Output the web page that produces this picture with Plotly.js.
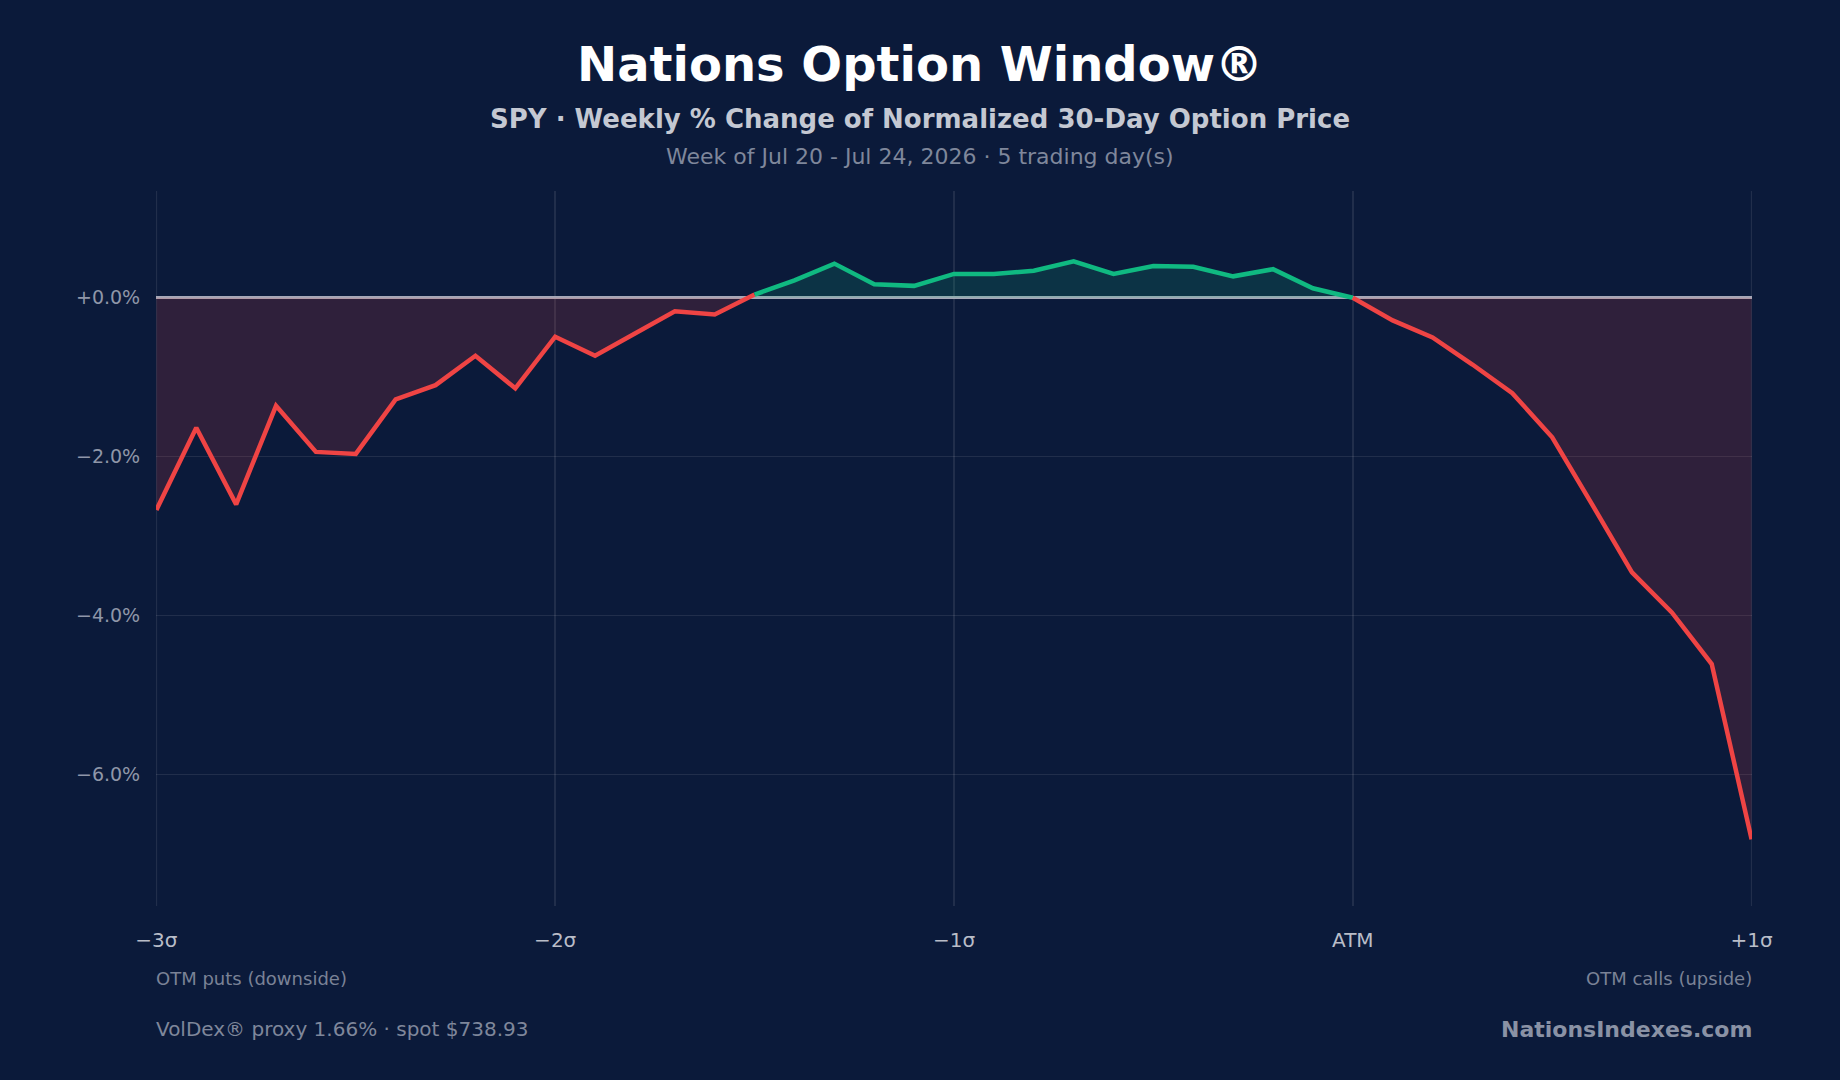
<!DOCTYPE html>
<html>
<head>
<meta charset="utf-8">
<script src="https://cdn.plot.ly/plotly-3.0.1.min.js"></script>
<style>
  html, body { margin: 0; padding: 0; background: #0b1a3a; }
  #chart { width: 1840px; height: 1080px; }
</style>
</head>
<body>
<div id="chart"></div>
<script>
"use strict"
// strike position in sigma units, one point every 0.1 sigma
const sigmas = [-3.0, -2.9, -2.8, -2.7, -2.6, -2.5, -2.4, -2.3, -2.2, -2.1,
                -2.0, -1.9, -1.8, -1.7, -1.6, -1.5, -1.4, -1.3, -1.2, -1.1,
                -1.0, -0.9, -0.8, -0.7, -0.6, -0.5, -0.4, -0.3, -0.2, -0.1,
                 0.0,  0.1,  0.2,  0.3,  0.4,  0.5,  0.6,  0.7,  0.8,  0.9, 1.0];
// weekly % change of the normalized 30-day option price
const pctChange = [-2.67, -1.635, -2.60, -1.36, -1.94, -1.965, -1.28, -1.10, -0.73, -1.14,
                   -0.49, -0.73, -0.45, -0.17, -0.21, 0.04, 0.22, 0.43, 0.17, 0.15,
                    0.30, 0.30, 0.34, 0.46, 0.30, 0.40, 0.39, 0.27, 0.36, 0.12,
                    0.00, -0.285, -0.50, -0.84, -1.20, -1.755, -2.60, -3.455, -3.96, -4.61, -6.815];

const xTickVals = [-3, -2, -1, 0, 1];
const xTickText = ['−3σ', '−2σ', '−1σ', 'ATM', '+1σ'];
const yTickVals = [0, -2, -4, -6];
const yTickText = ['+0.0%', '−2.0%', '−4.0%', '−6.0%'];

const RED = '#ef4444';
const GREEN = '#10b981';
const BG = '#0b1a3a';
const GRID = 'rgba(255,255,255,0.09)';

// segments: downside losers, the green hump, upside losers
function part(a, b, color, fill) {
    return {
        x: sigmas.slice(a, b),
        y: pctChange.slice(a, b),
        type: 'scatter',
        mode: 'lines',
        line: { color: color, width: 4.5 },
        fill: 'tozeroy',
        fillcolor: fill,
        hoverinfo: 'none',
        showlegend: false
    };
}

var data = [
    part(0, 16, RED, 'rgba(239,68,68,0.16)'),
    part(15, 31, GREEN, 'rgba(16,185,129,0.16)'),
    part(30, 41, RED, 'rgba(239,68,68,0.16)')
];

const font = 'DejaVu Sans, sans-serif';
const cx = (920 - 156) / 1596;      // figure centre in paper units
function py(px) { return (906 - px) / 715; }   // pixel row -> paper y

// plotly drops gridlines sitting on the range ends, so draw those two by hand
const edgeLines = [xTickVals[0], xTickVals[xTickVals.length - 1]].map(function (v) {
    return { type: 'line', xref: 'x', yref: 'paper', x0: v, x1: v, y0: 0, y1: 1,
             layer: 'below', line: { color: GRID, width: 1.5 } };
});

var layout = {
    width: 1840,
    height: 1080,
    paper_bgcolor: BG,
    plot_bgcolor: BG,
    margin: { l: 156, r: 88, t: 191, b: 174 },
    font: { family: font, color: '#b9bdc8' },
    title: {
        text: '<b>Nations Option Window®</b>',
        font: { family: font, size: 48, color: '#ffffff' },
        x: 0.5, xref: 'container', xanchor: 'center',
        y: 1 - 64 / 1080, yref: 'container', yanchor: 'middle'
    },
    xaxis: {
        range: [-3.001, 1.001],
        tickvals: xTickVals,
        ticktext: xTickText,
        tickfont: { family: font, size: 20, color: '#b9bdc8' },
        ticks: 'outside', ticklen: 16, tickcolor: 'rgba(0,0,0,0)',
        showgrid: true, gridcolor: GRID, gridwidth: 1.5,
        zeroline: false, showline: false, fixedrange: true
    },
    yaxis: {
        range: [-7.655, 1.344],
        tickvals: yTickVals,
        ticktext: yTickText,
        tickfont: { family: font, size: 19, color: '#8f96a8' },
        ticks: 'outside', ticklen: 11, tickcolor: 'rgba(0,0,0,0)',
        showgrid: true, gridcolor: GRID, gridwidth: 1.5,
        zeroline: true, zerolinecolor: '#a6a8b8', zerolinewidth: 2.7,
        showline: false, fixedrange: true
    },
    shapes: edgeLines,
    annotations: [
        { text: '<b>SPY · Weekly % Change of Normalized 30-Day Option Price</b>',
          xref: 'paper', yref: 'paper', x: cx, y: py(119),
          xanchor: 'center', yanchor: 'middle', showarrow: false,
          font: { family: font, size: 26, color: '#c4c8d2' } },
        { text: 'Week of Jul 20 - Jul 24, 2026 · 5 trading day(s)',
          xref: 'paper', yref: 'paper', x: cx, y: py(156),
          xanchor: 'center', yanchor: 'middle', showarrow: false,
          font: { family: font, size: 22, color: '#7f879b' } },
        { text: 'OTM puts (downside)',
          xref: 'paper', yref: 'paper', x: 0, y: py(978), xshift: -2,
          xanchor: 'left', yanchor: 'middle', showarrow: false,
          font: { family: font, size: 18, color: '#7a8296' } },
        { text: 'OTM calls (upside)',
          xref: 'paper', yref: 'paper', x: 1, y: py(978), xshift: 2,
          xanchor: 'right', yanchor: 'middle', showarrow: false,
          font: { family: font, size: 18, color: '#7a8296' } },
        { text: 'VolDex® proxy 1.66% · spot $738.93',
          xref: 'paper', yref: 'paper', x: 0, y: py(1029), xshift: -2,
          xanchor: 'left', yanchor: 'middle', showarrow: false,
          font: { family: font, size: 20, color: '#7f879b' } },
        { text: '<b>NationsIndexes.com</b>',
          xref: 'paper', yref: 'paper', x: 1, y: py(1029), xshift: 2,
          xanchor: 'right', yanchor: 'middle', showarrow: false,
          font: { family: font, size: 22, color: '#8a92a5' } }
    ]
};

Plotly.newPlot('chart', data, layout, { displayModeBar: false, staticPlot: true });
</script>
</body>
</html>
